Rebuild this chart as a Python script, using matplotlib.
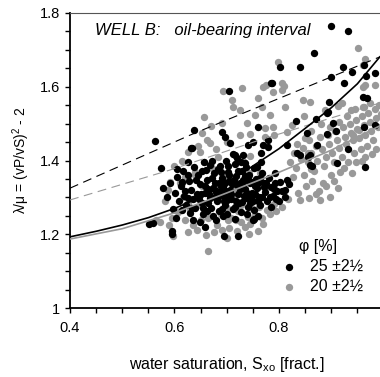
import numpy as np
import matplotlib
matplotlib.use('Agg')
import matplotlib.pyplot as plt
from matplotlib.ticker import MultipleLocator

plt.rcParams['font.family'] = ['Liberation Sans', 'DejaVu Sans']
plt.rcParams['mathtext.fontset'] = 'custom'
plt.rcParams['mathtext.rm'] = 'Liberation Sans'
plt.rcParams['mathtext.it'] = 'Liberation Sans:italic'

# porosity 25 +/- 2.5 %  (black)
bx = [0.899, 0.932, 0.867, 0.802, 0.840, 0.922, 0.940, 0.899, 0.967, 0.785, 0.924, 0.704, 0.961, 0.896,
      0.637, 0.871, 0.892, 0.691, 0.760, 0.697, 0.706, 0.741, 0.750, 0.779, 0.765, 0.815, 0.854, 0.892,
      0.903, 0.873, 0.932, 0.712, 0.720, 0.735, 0.758, 0.863, 0.911, 0.965, 0.802, 0.792, 0.815, 0.731,
      0.962, 0.984, 0.787, 0.969, 0.894, 0.833, 0.909, 0.779, 0.840, 0.859, 0.859, 0.984, 0.962, 0.811,
      0.563, 0.574, 0.605, 0.578, 0.591, 0.601, 0.585, 0.551, 0.595, 0.595, 0.626, 0.631,
      0.658, 0.695, 0.722, 0.649, 0.750, 0.559, 0.633, 0.769, 0.716, 0.731, 0.752, 0.834, 0.856,
      0.605, 0.612, 0.618, 0.622, 0.615, 0.628, 0.632, 0.636, 0.640, 0.645, 0.648, 0.650, 0.653, 0.655,
      0.660, 0.662, 0.665, 0.668, 0.670, 0.673, 0.676, 0.678, 0.680, 0.682, 0.685, 0.688, 0.690, 0.692,
      0.695, 0.697, 0.700, 0.702, 0.705, 0.707, 0.709, 0.712, 0.715, 0.717, 0.719, 0.722, 0.724, 0.727,
      0.730, 0.732, 0.735, 0.737, 0.740, 0.743, 0.745, 0.748, 0.750, 0.753, 0.756, 0.758, 0.761, 0.764,
      0.768, 0.771, 0.774, 0.777, 0.780, 0.784, 0.788, 0.792, 0.797, 0.625, 0.638, 0.657, 0.672, 0.686,
      0.699, 0.711, 0.726, 0.741, 0.754, 0.666, 0.683, 0.694, 0.706, 0.718, 0.733, 0.746, 0.760, 0.772,
      0.620, 0.643, 0.658, 0.674, 0.689, 0.703, 0.728, 0.752, 0.766, 0.608, 0.630, 0.662, 0.693, 0.738,
      0.760, 0.785, 0.800, 0.812, 0.820, 0.635, 0.680, 0.715, 0.598, 0.602,
      0.614, 0.626, 0.634, 0.641, 0.647, 0.652, 0.659, 0.664, 0.671, 0.677, 0.684, 0.687, 0.691, 0.696,
      0.701, 0.704, 0.708, 0.713, 0.716, 0.721, 0.725, 0.729, 0.734, 0.739, 0.744, 0.749, 0.755, 0.759,
      0.763, 0.767, 0.776, 0.782, 0.790, 0.795, 0.806, 0.668, 0.698, 0.736, 0.617, 0.654]
by = [1.765, 1.751, 1.692, 1.654, 1.654, 1.654, 1.640, 1.626, 1.629, 1.610, 1.610, 1.588, 1.572, 1.559,
      1.483, 1.513, 1.529, 1.477, 1.491, 1.464, 1.447, 1.442, 1.450, 1.437, 1.420, 1.442, 1.475, 1.472,
      1.502, 1.442, 1.431, 1.418, 1.407, 1.393, 1.382, 1.385, 1.393, 1.382, 1.342, 1.366, 1.347, 1.342,
      1.659, 1.637, 1.610, 1.569, 1.532, 1.507, 1.480, 1.456, 1.415, 1.415, 1.388, 1.496, 1.490, 1.320,
      1.453, 1.380, 1.377, 1.325, 1.339, 1.312, 1.301, 1.228, 1.209, 1.200, 1.396, 1.434,
      1.220, 1.195, 1.195, 1.233, 1.239, 1.231, 1.434, 1.442, 1.415, 1.415, 1.241, 1.420, 1.409,
      1.355, 1.330, 1.305, 1.280, 1.265, 1.345, 1.320, 1.295, 1.270, 1.360, 1.335, 1.310, 1.285, 1.255,
      1.375, 1.348, 1.322, 1.298, 1.272, 1.250, 1.365, 1.340, 1.315, 1.290, 1.262, 1.385, 1.352, 1.328,
      1.305, 1.280, 1.255, 1.370, 1.345, 1.320, 1.295, 1.268, 1.390, 1.358, 1.333, 1.310, 1.285, 1.260,
      1.372, 1.348, 1.322, 1.298, 1.275, 1.362, 1.338, 1.312, 1.290, 1.265, 1.350, 1.325, 1.300, 1.278,
      1.365, 1.340, 1.315, 1.290, 1.352, 1.328, 1.305, 1.340, 1.318, 1.362, 1.382, 1.395, 1.398, 1.340,
      1.318, 1.335, 1.338, 1.350, 1.330, 1.308, 1.300, 1.290, 1.303, 1.290, 1.305, 1.300, 1.338, 1.328,
      1.318, 1.308, 1.330, 1.325, 1.368, 1.385, 1.395, 1.380, 1.395, 1.290, 1.258, 1.262, 1.250, 1.255,
      1.250, 1.275, 1.290, 1.300, 1.335, 1.240, 1.238, 1.242, 1.268, 1.245,
      1.342, 1.298, 1.272, 1.348, 1.295, 1.372, 1.312, 1.285, 1.352, 1.300, 1.378, 1.318, 1.268, 1.340,
      1.292, 1.362, 1.310, 1.348, 1.275, 1.372, 1.322, 1.288, 1.358, 1.312, 1.285, 1.342, 1.310, 1.290,
      1.352, 1.302, 1.338, 1.300, 1.322, 1.295, 1.318, 1.388, 1.398, 1.382, 1.372, 1.270]

# porosity 20 +/- 2.5 %  (grey)
gx = [0.951, 0.798, 0.965, 0.961, 0.693, 0.729, 0.769, 0.788, 0.810, 0.710, 0.760, 0.811, 0.846, 0.859,
      0.767, 0.712, 0.754, 0.783, 0.656, 0.670, 0.691, 0.739, 0.653, 0.773, 0.888, 0.920, 0.961, 0.626,
      0.591, 0.614, 0.805, 0.806, 0.775, 0.965, 0.984, 0.963, 0.913, 0.937, 0.773, 0.815, 0.700, 0.725,
      0.680, 0.745, 0.790, 0.825, 0.600, 0.615, 0.645, 0.662, 0.848, 0.725, 0.788, 0.668, 0.683, 0.649,
      0.640, 0.733, 0.745, 0.855, 0.862, 0.942, 0.953,
      0.572, 0.601, 0.610, 0.587, 0.616, 0.643, 0.681, 0.702, 0.709, 0.718, 0.630, 0.607, 0.748, 0.761,
      0.777, 0.758, 0.773, 0.763, 0.664, 0.652, 0.689, 0.681, 0.712, 0.650, 0.625, 0.700, 0.689, 0.721,
      0.660, 0.675, 0.690, 0.705, 0.720, 0.735, 0.745, 0.728, 0.740, 0.755, 0.768, 0.782, 0.795, 0.805,
      0.790, 0.818, 0.650, 0.665, 0.635, 0.620, 0.596, 0.582, 0.657, 0.672, 0.640, 0.695, 0.733, 0.742,
      0.706, 0.620, 0.590, 0.565, 0.598, 0.625, 0.700, 0.742, 0.760, 0.770, 0.727, 0.715,
      0.822, 0.828, 0.832, 0.836, 0.840, 0.842, 0.845, 0.848, 0.852, 0.855, 0.858, 0.861, 0.864, 0.867,
      0.870, 0.873, 0.876, 0.879, 0.882, 0.884, 0.887, 0.890, 0.893, 0.896, 0.899, 0.902, 0.905, 0.908,
      0.911, 0.914, 0.917, 0.920, 0.923, 0.926, 0.929, 0.932, 0.935, 0.938, 0.941, 0.944, 0.947, 0.950,
      0.953, 0.956, 0.959, 0.962, 0.965, 0.968, 0.971, 0.974, 0.977, 0.980, 0.983, 0.986, 0.989, 0.992,
      0.995, 0.960, 0.975, 0.945, 0.930, 0.915, 0.898, 0.880, 0.862, 0.850, 0.834, 0.826, 0.870, 0.890,
      0.905, 0.925, 0.948, 0.965, 0.985, 0.940, 0.912, 0.858, 0.878, 0.898, 0.958, 0.978]
gy = [1.705, 1.667, 1.675, 1.659, 1.588, 1.597, 1.599, 1.586, 1.602, 1.564, 1.569, 1.545, 1.564, 1.559,
      1.545, 1.545, 1.523, 1.523, 1.518, 1.494, 1.502, 1.502, 1.475, 1.464, 1.537, 1.556, 1.599, 1.423,
      1.342, 1.339, 1.610, 1.592, 1.605, 1.605, 1.605, 1.545, 1.548, 1.537, 1.488, 1.477, 1.450, 1.470,
      1.430, 1.472, 1.470, 1.495, 1.385, 1.400, 1.440, 1.455, 1.520, 1.537, 1.491, 1.447, 1.410, 1.423,
      1.369, 1.396, 1.412, 1.420, 1.378, 1.468, 1.482,
      1.233, 1.266, 1.339, 1.320, 1.300, 1.212, 1.225, 1.239, 1.245, 1.239, 1.266, 1.260, 1.270, 1.273,
      1.266, 1.300, 1.327, 1.365, 1.155, 1.330, 1.330, 1.296, 1.302, 1.280, 1.285, 1.270, 1.255, 1.263,
      1.198, 1.205, 1.212, 1.218, 1.210, 1.220, 1.228, 1.232, 1.247, 1.252, 1.245, 1.255, 1.262, 1.275,
      1.282, 1.295, 1.238, 1.245, 1.225, 1.240, 1.245, 1.290, 1.395, 1.380, 1.362, 1.355, 1.318, 1.365,
      1.348, 1.355, 1.225, 1.240, 1.195, 1.205, 1.190, 1.200, 1.210, 1.228, 1.280, 1.325,
      1.395, 1.420, 1.380, 1.312, 1.293, 1.405, 1.435, 1.360, 1.330, 1.395, 1.455, 1.420, 1.345, 1.372,
      1.440, 1.400, 1.318, 1.465, 1.430, 1.339, 1.385, 1.410, 1.470, 1.445, 1.360, 1.420, 1.395, 1.480,
      1.455, 1.435, 1.370, 1.410, 1.490, 1.465, 1.445, 1.395, 1.500, 1.475, 1.455, 1.420, 1.510, 1.485,
      1.460, 1.430, 1.520, 1.495, 1.470, 1.440, 1.530, 1.505, 1.480, 1.455, 1.540, 1.515, 1.490, 1.550,
      1.525, 1.545, 1.555, 1.540, 1.520, 1.505, 1.490, 1.500, 1.480, 1.462, 1.445, 1.355, 1.310, 1.330,
      1.345, 1.380, 1.395, 1.410, 1.430, 1.365, 1.325, 1.298, 1.292, 1.302, 1.398, 1.418]

# trend curves
sol_b_x = [0.40, 0.45, 0.50, 0.55, 0.60, 0.65, 0.70, 0.75, 0.80, 0.85, 0.90, 0.95, 0.993]
sol_b_y = [1.193, 1.208, 1.225, 1.245, 1.270, 1.300, 1.338, 1.385, 1.432, 1.487, 1.543, 1.608, 1.681]
sol_g_x = [0.40, 0.50, 0.60, 0.70, 0.80, 0.90, 0.993]
sol_g_y = [1.187, 1.215, 1.258, 1.312, 1.368, 1.428, 1.494]
dash_b_x = [0.400, 0.630, 0.993]
dash_b_y = [1.325, 1.469, 1.681]
dash_g_x = [0.400, 0.591, 0.764, 0.993]
dash_g_y = [1.293, 1.374, 1.456, 1.556]

fig = plt.figure(figsize=(3.8, 3.77), dpi=100)
ax = fig.add_axes([70/380, 69/377, 313.5/380, 295/377])

hg = ax.scatter(gx, gy, s=28, color='#999999', linewidths=0, zorder=2)
hb = ax.scatter(bx, by, s=28, color='black', linewidths=0, zorder=3)

ax.plot(dash_b_x, dash_b_y, color='black', lw=0.8, dashes=(8, 5), zorder=4)
ax.plot(dash_g_x, dash_g_y, color='#999999', lw=0.8, dashes=(8, 5), zorder=4)
ax.plot(sol_g_x, sol_g_y, color='#999999', lw=1.2, zorder=4)
ax.plot(sol_b_x, sol_b_y, color='black', lw=1.2, zorder=4)

ax.set_xlim(0.4, 1.0)
ax.set_ylim(1.0, 1.8)
ax.xaxis.set_minor_locator(MultipleLocator(0.05))
ax.yaxis.set_minor_locator(MultipleLocator(0.05))
ax.set_xticks([0.4, 0.6, 0.8])
ax.set_xticklabels(['0.4', '0.6', '0.8'])
ax.set_yticks([1.0, 1.2, 1.4, 1.6, 1.8])
ax.set_yticklabels(['1', '1.2', '1.4', '1.6', '1.8'])
ax.tick_params(which='both', direction='out', length=3.5, width=1, labelsize=10.5, color='black')
ax.tick_params(axis='x', pad=6)

ax.spines['right'].set_visible(False)
ax.spines['top'].set_color('#555555')
ax.spines['left'].set_linewidth(1.3)
ax.spines['bottom'].set_linewidth(1.3)

ax.set_xlabel('water saturation, S$_{\\rm xo}$ [fract.]', fontsize=11.5, labelpad=14)
ax.set_ylabel('λ/μ = (vP/vS)$^{2}$ - 2', fontsize=10, labelpad=6)

ax.text(0.08, 0.94, 'WELL B:   oil-bearing interval', transform=ax.transAxes,
        fontsize=12, style='italic', va='center', ha='left')

leg = ax.legend([hb, hg], ['25 ±2½', '20 ±2½'], title='φ [%]', loc='lower right',
                bbox_to_anchor=(0.975, 0.005), frameon=False, fontsize=11.5,
                title_fontsize=11.5, handletextpad=0.3, labelspacing=0.3,
                borderpad=0.3, markerscale=1.0)

fig.savefig('out.png', dpi=100)
